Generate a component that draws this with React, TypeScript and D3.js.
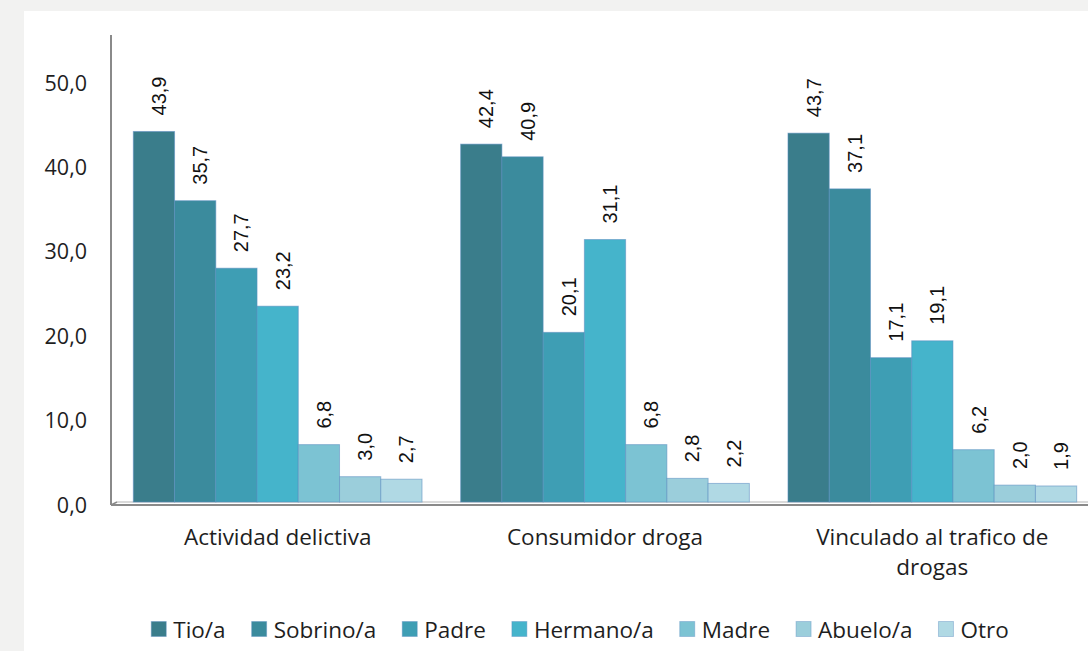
import React, { useEffect, useRef } from "react";
import * as d3 from "d3";

const categories = ["Actividad delictiva", "Consumidor droga", "Vinculado al trafico de drogas"];
const seriesNames = ["Tio/a", "Sobrino/a", "Padre", "Hermano/a", "Madre", "Abuelo/a", "Otro"];
const actividadDelictiva = [43.9, 35.7, 27.7, 23.2, 6.8, 3.0, 2.7];
const consumidorDroga = [42.4, 40.9, 20.1, 31.1, 6.8, 2.8, 2.2];
const vinculadoTrafico = [43.7, 37.1, 17.1, 19.1, 6.2, 2.0, 1.9];
const yTicks = [0, 10, 20, 30, 40, 50];
const seriesColors = ["#3a7d8b", "#3b8b9d", "#3e9eb4", "#45b4cb", "#7cc3d3", "#9bcedb", "#b0d9e4"];

const W = 1088;
const H = 651;
const UI_FONT = "'Open Sans', sans-serif";
const VAL_FONT = "'Liberation Sans', Arial, sans-serif";

export default function App() {
  const ref = useRef<SVGSVGElement | null>(null);

  useEffect(() => {
    const svg = d3.select(ref.current);
    svg.selectAll("*").remove();

    const table = categories.map((c, i) => ({
      category: c,
      values: [actividadDelictiva, consumidorDroga, vinculadoTrafico][i],
    }));

    // background
    svg.append("rect").attr("width", W).attr("height", H).attr("fill", "#f2f2f1");
    svg.append("rect").attr("x", 24).attr("y", 11).attr("width", W - 24).attr("height", H - 11).attr("fill", "#ffffff");

    const x0 = d3.scaleBand<string>().domain(categories).range([114, 1096]).paddingInner(0.118).paddingOuter(0.059);
    const x1 = d3.scaleBand<string>().domain(seriesNames).range([0, x0.bandwidth()]).padding(0);
    const y = d3.scaleLinear().domain([0, 50]).range([502, 80]);
    const fmt = (v: number) => d3.format(".1f")(v).replace(".", ",");

    // axis
    const axisX = 111;
    svg.append("line").attr("x1", axisX).attr("x2", axisX).attr("y1", 35).attr("y2", y(0) + 3)
      .attr("stroke", "#8a8a8a").attr("stroke-width", 2);
    // floor
    svg.append("line").attr("x1", axisX).attr("x2", W).attr("y1", y(0) + 3).attr("y2", y(0) + 3)
      .attr("stroke", "#8a8a8a").attr("stroke-width", 2);
    svg.append("line").attr("x1", axisX + 6).attr("x2", W).attr("y1", y(0)).attr("y2", y(0))
      .attr("stroke", "#b5b5b5").attr("stroke-width", 1);
    svg.append("line").attr("x1", axisX).attr("x2", axisX + 6).attr("y1", y(0) + 3).attr("y2", y(0))
      .attr("stroke", "#8a8a8a").attr("stroke-width", 1.5);

    // ticks
    svg.append("g").selectAll("text").data(yTicks).join("text")
      .attr("x", 87).attr("y", (d) => y(d) + 2)
      .attr("text-anchor", "end").attr("dominant-baseline", "central")
      .attr("font-family", UI_FONT).attr("font-size", 21.5).attr("fill", "#1e1e1e")
      .text((d) => fmt(d));

    // bars
    const groups = svg.append("g").selectAll("g").data(table).join("g")
      .attr("transform", (d) => `translate(${x0(d.category)},0)`);

    groups.selectAll("rect").data((d) => d.values.map((v, i) => ({ v, s: seriesNames[i], i }))).join("rect")
      .attr("x", (d) => x1(d.s)!)
      .attr("y", (d) => y(d.v))
      .attr("width", x1.bandwidth())
      .attr("height", (d) => y(0) - y(d.v))
      .attr("fill", (d) => seriesColors[d.i])
      .attr("stroke", "#5a8cc0").attr("stroke-opacity", 0.55).attr("stroke-width", 1);

    groups.selectAll("text").data((d) => d.values.map((v, i) => ({ v, s: seriesNames[i] }))).join("text")
      .attr("transform", (d) => `translate(${x1(d.s)! + x1.bandwidth() / 2 + 12},${y(d.v) - 16}) rotate(-90)`)
      .attr("text-anchor", "start")
      .attr("font-family", VAL_FONT).attr("font-size", 20).attr("fill", "#111")
      .text((d) => fmt(d.v));

    // category labels with wrapping
    const maxW = 270;
    categories.forEach((c) => {
      const cx = x0(c)! + x0.bandwidth() / 2;
      const t = svg.append("text").attr("text-anchor", "middle")
        .attr("font-family", UI_FONT).attr("font-size", 22.5).attr("fill", "#1e1e1e");
      const words = c.split(" ");
      const lines: string[] = [];
      let cur: string[] = [];
      const probe = t.append("tspan");
      words.forEach((w) => {
        const test = [...cur, w].join(" ");
        probe.text(test);
        if ((probe.node() as SVGTSpanElement).getComputedTextLength() > maxW && cur.length) {
          lines.push(cur.join(" "));
          cur = [w];
        } else cur.push(w);
      });
      lines.push(cur.join(" "));
      probe.remove();
      lines.forEach((ln, i) => {
        t.append("tspan").attr("x", cx).attr("y", 545 + i * 30).text(ln);
      });
    });

    // legend
    const lg = svg.append("g");
    const items = lg.selectAll("g").data(seriesNames).join("g");
    items.append("rect").attr("width", 15).attr("height", 15).attr("y", -7.5)
      .attr("fill", (_, i) => seriesColors[i]).attr("stroke", "#5a8cc0").attr("stroke-opacity", 0.4);
    items.append("text").attr("x", 22).attr("dominant-baseline", "central")
      .attr("font-family", UI_FONT).attr("font-size", 22.5).attr("fill", "#1e1e1e")
      .text((d) => d);
    let off = 0;
    const offsets: number[] = [];
    items.each(function () {
      offsets.push(off);
      const tw = (d3.select(this).select("text").node() as SVGTextElement).getComputedTextLength();
      off += 22 + tw + 26;
    });
    const total = off - 26;
    const startX = 580 - total / 2;
    items.attr("transform", (_, i) => `translate(${startX + offsets[i]},629)`);
  }, []);

  return (
    <svg ref={ref} width={W} height={H} style={{ position: "absolute", left: 0, top: 0, display: "block" }} />
  );
}
